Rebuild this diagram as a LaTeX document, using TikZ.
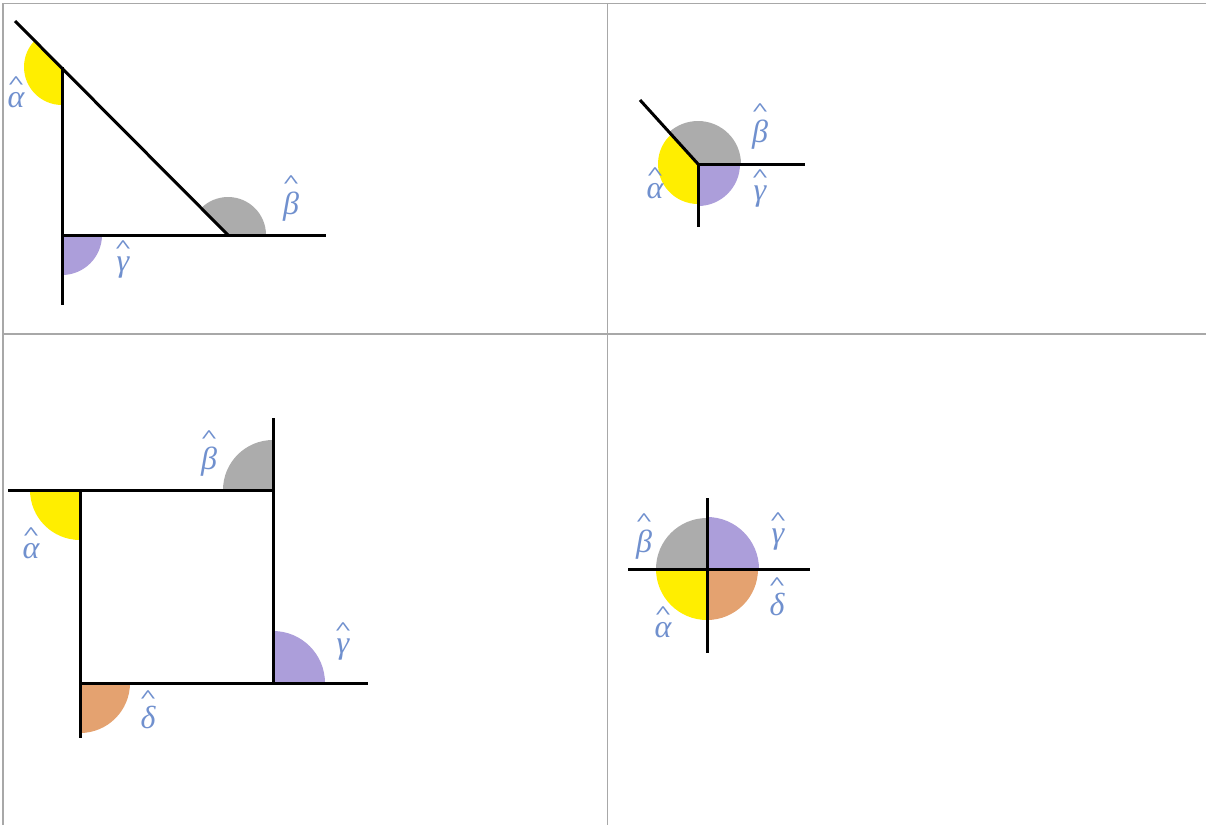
\documentclass[tikz,border=0pt]{standalone}
\usepackage{fontspec}
\setmainfont{Liberation Serif}
\definecolor{cyel}{RGB}{255,238,0}
\definecolor{cgray}{RGB}{172,172,172}
\definecolor{cpur}{RGB}{172,158,218}
\definecolor{corg}{RGB}{228,162,112}
\definecolor{clab}{RGB}{112,144,206}
\definecolor{cgrid}{RGB}{168,168,168}
\tikzset{
  seg/.style={line width=3pt, black},
  gridline/.style={line width=1.6pt, cgrid},
  lab/.style={text=clab, font=\fontsize{32}{32}\selectfont, inner sep=0pt, anchor=base},
}
\newcommand{\hatlab}[1]{\vbox{\baselineskip=0pt\lineskip=3.5pt\lineskiplimit=0pt\halign{\hfil##\hfil\cr{\fontsize{20}{20}\selectfont\upshape\bfseries\scalebox{1.5}[0.9]{\textasciicircum}}\cr\itshape #1\cr}}}
\newcommand{\wedgefill}[5]{\fill[#1] (#2) -- ++(#3:#5) arc[start angle=#3, end angle=#4, radius=#5] -- cycle;}
\begin{document}
\begin{tikzpicture}[x=1pt,y=1pt]
\useasboundingbox (0,0) rectangle (1206,-825);
% grid
\draw[gridline] (3,-825) -- (3,-3.5) -- (1206,-3.5);
\draw[gridline] (607.5,-3.5) -- (607.5,-825);
\draw[gridline] (3,-334) -- (1206,-334);

% ---------- panel 1 : triangle ----------
\coordinate (A1) at (62,-67);
\coordinate (B1) at (228,-235);
\coordinate (C1) at (62,-235);
\coordinate (A1e) at (15,-21);
\coordinate (B1e) at (326,-235);
\coordinate (C1e) at (62,-305);
\wedgefill{cyel}{A1}{135}{270}{38}
\wedgefill{cgray}{B1}{0}{135}{38}
\wedgefill{cpur}{C1}{270}{360}{40}
\draw[seg] (A1e) -- (B1);
\draw[seg] (A1) -- (C1e);
\draw[seg] (C1) -- (B1e);
\node[lab] (la1) at (16,-107) {\hatlab{α}};
\node[lab] (lb1) at (291,-214) {\hatlab{β}};
\node[lab] (lc1) at (123,-271) {\hatlab{γ}};

% ---------- panel 2 : three rays ----------
\coordinate (O2) at (698,-164);
\coordinate (P2a) at (640,-100);
\coordinate (P2b) at (805,-164);
\coordinate (P2c) at (698,-227);
\wedgefill{cyel}{O2}{132}{270}{40}
\wedgefill{cgray}{O2}{0}{132}{43}
\wedgefill{cpur}{O2}{270}{360}{42}
\draw[seg] (P2a) -- (O2);
\draw[seg] (O2) -- (P2b);
\draw[seg] (O2) -- (P2c);
\node[lab] (la2) at (655,-198) {\hatlab{α}};
\node[lab] (lb2) at (760,-142) {\hatlab{β}};
\node[lab] (lc2) at (760,-200) {\hatlab{γ}};

% ---------- panel 3 : square ----------
\coordinate (A3) at (80,-490);
\coordinate (B3) at (273,-490);
\coordinate (C3) at (273,-683);
\coordinate (D3) at (80,-683);
\coordinate (A3e) at (8,-490);
\coordinate (B3e) at (273,-418);
\coordinate (C3e) at (368,-683);
\coordinate (D3e) at (80,-738);
\wedgefill{cyel}{A3}{180}{270}{50}
\wedgefill{cgray}{B3}{90}{180}{50}
\wedgefill{cpur}{C3}{0}{90}{52}
\wedgefill{corg}{D3}{270}{360}{50}
\draw[seg] (A3e) -- (B3);
\draw[seg] (B3e) -- (C3);
\draw[seg] (D3) -- (C3e);
\draw[seg] (A3) -- (D3e);
\node[lab] (la3) at (31,-558) {\hatlab{α}};
\node[lab] (lb3) at (209,-469) {\hatlab{β}};
\node[lab] (lc3) at (343,-653) {\hatlab{γ}};
\node[lab] (ld3) at (148,-728) {\hatlab{δ}};

% ---------- panel 4 : crossing lines ----------
\coordinate (O4) at (707,-569);
\coordinate (H4a) at (628,-569);
\coordinate (H4b) at (810,-569);
\coordinate (V4a) at (707,-498);
\coordinate (V4b) at (707,-653);
\wedgefill{cgray}{O4}{90}{180}{51}
\wedgefill{cpur}{O4}{0}{90}{52}
\wedgefill{cyel}{O4}{180}{270}{51}
\wedgefill{corg}{O4}{270}{360}{51}
\draw[seg] (H4a) -- (H4b);
\draw[seg] (V4a) -- (V4b);
\node[lab] (lb4) at (644,-552) {\hatlab{β}};
\node[lab] (lc4) at (778,-543) {\hatlab{γ}};
\node[lab] (ld4) at (777,-615) {\hatlab{δ}};
\node[lab] (la4) at (663,-637) {\hatlab{α}};
\end{tikzpicture}
\end{document}
